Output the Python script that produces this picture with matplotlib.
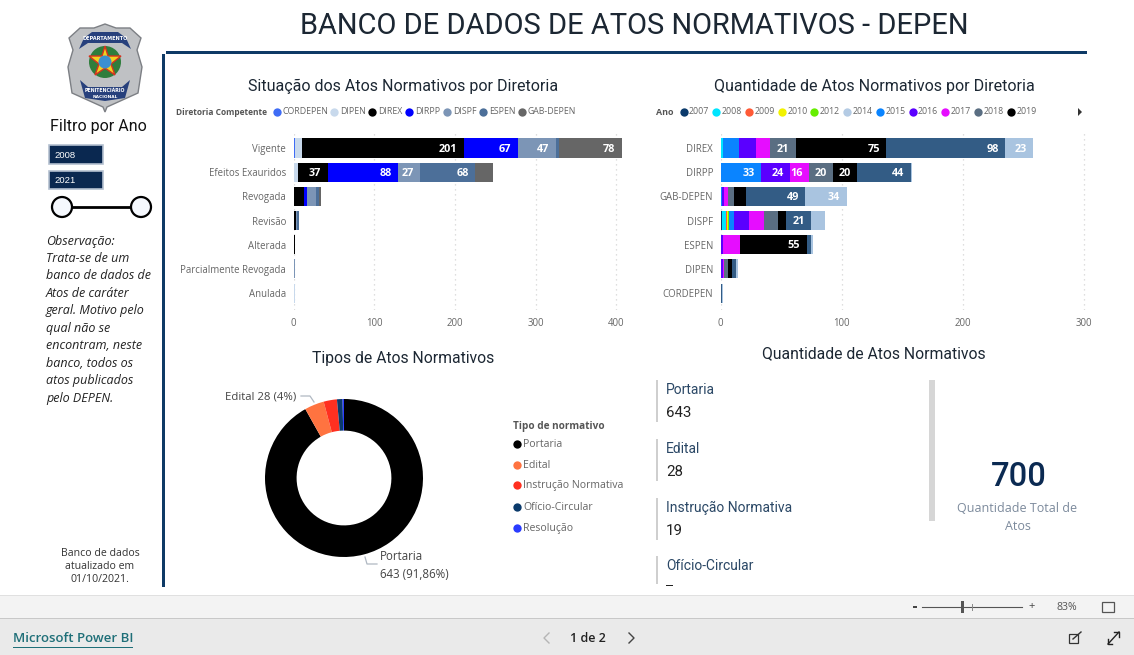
import matplotlib
matplotlib.use("Agg")
import matplotlib.pyplot as plt
from matplotlib.patches import Polygon, Rectangle, Circle
import numpy as np

W, H = 1134, 655

# ---------- data ----------
status_categories = ["Vigente", "Efeitos Exauridos", "Revogada", "Revisão", "Alterada",
                     "Parcialmente Revogada", "Anulada"]
directorates = ["CORDEPEN", "DIPEN", "DIREX", "DIRPP", "DISPF", "ESPEN", "GAB-DEPEN"]
cordepen = [2, 0, 0, 0, 0, 0, 0]
dipen = [8, 5, 0, 0, 0, 0, 2]
direx = [201, 37, 13, 3, 2, 0, 0]
dirpp = [67, 88, 3, 0, 0, 0, 0]
dispf = [47, 27, 12, 1, 0, 1, 0]
espen = [4, 68, 3, 2, 0, 0, 0]
gab = [78, 22, 3, 0, 0, 1, 0]
status_series = [cordepen, dipen, direx, dirpp, dispf, espen, gab]
status_colors = ["#3f6cf5", "#c8d9ec", "#000000", "#0000ff", "#7c95b6", "#4c6f99", "#666666"]

dir_categories = ["DIREX", "DIRPP", "GAB-DEPEN", "DISPF", "ESPEN", "DIPEN", "CORDEPEN"]
years = ["2007", "2008", "2009", "2010", "2012", "2014", "2015", "2016", "2017", "2018", "2019"]
y2007 = [0, 0, 0, 1, 0, 0, 0]
y2008 = [2, 0, 0, 3, 0, 0, 0]
y2009 = [0, 0, 0, 1, 0, 0, 0]
y2010 = [0, 0, 0, 1, 0, 0, 0]
y2012 = [0, 0, 0, 1, 0, 0, 0]
y2014 = [0, 0, 0, 0, 0, 0, 0]
y2015 = [13, 33, 1, 4, 0, 0, 0]
y2016 = [14, 24, 2, 12, 2, 2, 0]
y2017 = [12, 16, 3, 13, 14, 1, 0]
y2018 = [21, 20, 5, 11, 0, 3, 0]
y2019 = [75, 20, 10, 7, 55, 3, 0]
y2020 = [98, 44, 49, 21, 4, 4, 1]
y2021 = [23, 1, 34, 11, 1, 1, 1]
year_series = [y2007, y2008, y2009, y2010, y2012, y2014, y2015, y2016, y2017, y2018, y2019, y2020, y2021]
year_colors = ["#0b3a6b", "#00e5ff", "#ff5a36", "#f2f200", "#66ee00", "#b4cbe4", "#0a84ff",
               "#5a00ff", "#e60dff", "#5a6e82", "#000000", "#335c85", "#a9c4e0"]

act_types = ["Portaria", "Edital", "Instrução Normativa", "Ofício-Circular", "Resolução"]
act_values = [643, 28, 19, 8, 2]
act_colors = ["#000000", "#ff7340", "#ff3020", "#0b3a6b", "#2a3cff"]
kpi_values = ["643", "28", "19", "–"]
total_acts = "700"
obs_lines = ["Observação:", "Trata-se de um", "banco de dados de", "Atos de caráter", "geral. Motivo pelo",
             "qual não se", "encontram, neste", "banco, todos os", "atos publicados", "pelo DEPEN."]

# ---------- helpers ----------
HEAD = "Roboto"
BODY = "Open Sans"
fig = plt.figure(figsize=(W / 100, H / 100), dpi=100, facecolor="white")
bg = fig.add_axes([0, 0, 1, 1], zorder=0)
bg.set_xlim(0, W)
bg.set_ylim(H, 0)
bg.axis("off")


def px_axes(x0, y0, x1, y1, zorder=2):
    ax = fig.add_axes([x0 / W, 1 - y1 / H, (x1 - x0) / W, (y1 - y0) / H], zorder=zorder)
    ax.patch.set_alpha(0)
    return ax


def t(x, y, s, size=8, color="#666666", ha="left", va="center", family=BODY, **kw):
    return bg.text(x, y + 1, s, fontsize=size, color=color, ha=ha, va=va, family=family, **kw)


def rect(x0, y0, x1, y1, color, **kw):
    bg.add_patch(Rectangle((x0, y0), x1 - x0, y1 - y0, facecolor=color, edgecolor="none", **kw))


def stacked(px, series, colors, cats, xmax, ticks, threshold):
    ax = px_axes(*px)
    left = np.zeros(len(cats))
    for vals, col in zip(series, colors):
        vals = np.array(vals, float)
        ax.barh(range(len(cats)), vals, left=left, height=0.79, color=col, linewidth=0, zorder=3)
        for i, v in enumerate(vals):
            if v >= threshold:
                ax.annotate(f"{int(v)}", (left[i] + v, i), xytext=(-4.5, -0.8), textcoords="offset points",
                            ha="right", va="center", color="white", fontsize=7.8, fontweight="bold",
                            family=BODY, zorder=4)
        left += vals
    ax.set_xlim(0, xmax)
    ax.set_ylim(6.70, -0.745)
    ax.set_yticks(range(len(cats)), cats)
    ax.set_xticks(ticks)
    ax.tick_params(length=0, labelsize=6.9, labelcolor="#666666")
    ax.tick_params(axis="y", pad=5.5)
    ax.tick_params(axis="x", pad=5.5)
    for lab in ax.get_xticklabels() + ax.get_yticklabels():
        lab.set_family(BODY)
    for s in ax.spines.values():
        s.set_visible(False)
    ax.grid(axis="x", color="#d4d4d4", linestyle=(0, (1, 3)), linewidth=0.9, zorder=1)
    ax.set_axisbelow(True)
    return ax


# ---------- chrome ----------
t(634, 25, "BANCO DE DADOS DE ATOS NORMATIVOS - DEPEN", size=20.9, color="#1c2733", ha="center", family=HEAD)
rect(166, 51, 1087, 53.5, "#0e3a66")
rect(162, 54, 164.5, 587, "#0e3a66")
rect(0, 595, W, 618, "#f3f3f3")
rect(0, 595, W, 596, "#e0e0e0")
rect(0, 618, W, H, "#eaeaea")
rect(0, 617.5, W, 618.5, "#c8c8c8")

# ---------- badge ----------
half = [[105, 24], [94, 28], [80, 28], [69, 38], [73, 50], [68, 67], [72, 93], [103, 107], [105, 112]]
shield = half + [[210 - x, y] for x, y in half[-2:0:-1]]
bg.add_patch(Polygon(shield, closed=True, facecolor="#bfc1c4", edgecolor="#7c7f84", linewidth=1))
bg.add_patch(Polygon([[84, 38], [92, 32], [118, 32], [126, 38], [131, 49], [122, 43], [88, 43], [79, 49]],
                     closed=True, facecolor="#27407c", edgecolor="none"))
bg.add_patch(Polygon([[80, 80], [88, 87], [122, 87], [130, 80], [125, 98], [105, 101], [85, 98]],
                     closed=True, facecolor="#27407c", edgecolor="none"))
star = [[105, 46], [108, 56], [121, 56], [111, 64], [115, 75], [105, 68], [95, 75], [99, 64], [89, 56], [102, 56]]
bg.add_patch(Circle((105, 62), 16, facecolor="#2f7d3c", edgecolor="none"))
bg.add_patch(Polygon(star, closed=True, facecolor="#f2d21f", edgecolor="#d6321f", linewidth=1))
bg.add_patch(Circle((105, 62), 6.5, facecolor="#3b8fd0", edgecolor="none"))
t(105, 37, "DEPARTAMENTO", size=3.6, color="white", ha="center", family="DejaVu Sans", fontweight="bold")
t(105, 90, "PENITENCIÁRIO", size=3.4, color="white", ha="center", family="DejaVu Sans", fontweight="bold")
t(105, 96, "NACIONAL", size=3.2, color="white", ha="center", family="DejaVu Sans", fontweight="bold")

# ---------- slicer ----------
t(98, 126, "Filtro por Ano", size=11.5, color="#111111", ha="center", family=HEAD)
for y0, y1, lab in [(145, 164, "2008"), (171, 189, "2021")]:
    bg.add_patch(Rectangle((49, y0), 54, y1 - y0, facecolor="#0a2850", edgecolor="#b4c0d0", linewidth=1.2))
    t(54, (y0 + y1) / 2 - 0.5, lab, size=6.8, color="white", family="Liberation Sans")
bg.plot([62, 141], [207, 207], color="black", lw=2, zorder=2)
for cx in (62, 141):
    bg.add_patch(Circle((cx, 207), 10, facecolor="#f5f8fd", edgecolor="black", linewidth=1.6, zorder=3))

# ---------- observation ----------
for i, line in enumerate(obs_lines):
    t(46, 240 + i * 17.45, line, size=9, color="#222222", style="italic")
for y, line in zip((552, 565.5, 579), ("Banco de dados", "atualizado em", "01/10/2021.")):
    t(100, y, line, size=7.6, color="#333333", ha="center")

# ---------- stacked bars ----------
t(403, 85, "Situação dos Atos Normativos por Diretoria", size=11.5, color="#1c2733", ha="center", family=HEAD)
stacked((293.7, 130, 623, 310), status_series, status_colors, status_categories, 329.3 / 0.806, [0, 100, 200, 300, 400], 27)
t(176, 111.5, "Diretoria Competente", size=6.0, color="#555555", fontweight="bold")
for x, name, col in zip((276.7, 334, 372, 409, 447, 483, 522), directorates, status_colors):
    bg.scatter([x], [112], s=36, color=col, linewidths=0)
    t(x + 6, 111, name, size=6.3)

t(874, 85, "Quantidade de Atos Normativos por Diretoria", size=11.5, color="#1c2733", ha="center", family=HEAD)
stacked((720.7, 130, 1090, 310), year_series, year_colors, dir_categories, 369.3 / 1.21, [0, 100, 200, 300], 16)
t(656, 111.5, "Ano", size=6.4, color="#555555", fontweight="bold")
for i, (name, col) in enumerate(zip(years, year_colors)):
    x = 683.5 + i * 32.73
    bg.scatter([x], [112], s=36, color=col, linewidths=0)
    t(x + 5.5, 111, name, size=6.3)
bg.add_patch(Polygon([[1078, 108], [1082, 112], [1078, 116]], closed=True, facecolor="#333333", edgecolor="none"))

# ---------- donut ----------
t(403, 358, "Tipos de Atos Normativos", size=11.3, color="#1c2733", ha="center", family=HEAD)
pie_ax = px_axes(344 - 79, 478 - 79, 344 + 79, 478 + 79)
pie_ax.pie(act_values, colors=act_colors, startangle=90, counterclock=False, radius=1,
           wedgeprops=dict(width=0.4, linewidth=0))
pie_ax.set_xlim(-1, 1)
pie_ax.set_ylim(-1, 1)
bg.plot([301, 310, 314], [396, 396, 402], color="#b0b8c2", lw=0.9)
bg.plot([365, 367, 377], [557, 564, 564], color="#b0b8c2", lw=0.9)
t(225, 396, "Edital 28 (4%)", size=8.2, color="#444444")
t(380, 556, "Portaria", size=8.3, color="#444444")
t(380, 573, "643 (91,86%)", size=8.3, color="#444444")

t(513, 426, "Tipo de normativo", size=7.2, color="#555555", fontweight="bold")
for y, name, col in zip((444, 465, 485, 507, 528), act_types, act_colors):
    bg.scatter([517], [y], s=36, color=col, linewidths=0)
    t(523, y - 0.5, name, size=7.6)

# ---------- KPI ----------
t(874, 353, "Quantidade de Atos Normativos", size=11.3, color="#1c2733", ha="center", family=HEAD)
for i, (name, val) in enumerate(zip(act_types[:4], kpi_values)):
    y = 380 + i * 58.8
    rect(656, y, 658, min(y + 42, 584), "#cfcfcf")
    t(666, y + 9, name, size=10, color="#2b4866", family=HEAD)
    if i < 3:
        t(666, y + 32, val, size=10.8, color="#222222", family=HEAD)
    else:
        rect(666, y + 28.5, 673, y + 29.5, "#222222")
rect(929, 380, 935, 521, "#d6d6d6")
t(1019, 476, total_acts, size=23.5, color="#0b2a52", ha="center", family=HEAD, fontweight="medium")
t(1017, 508, "Quantidade Total de", size=9, color="#7c8a9c", ha="center")
t(1018, 526, "Atos", size=9, color="#7c8a9c", ha="center")

# ---------- footer ----------
rect(913, 606, 917, 608, "#444444")
bg.plot([922, 1022], [607, 607], color="#555555", lw=0.8)
rect(961, 601, 964, 613, "#555555")
bg.plot([972, 972], [604, 610], color="#888888", lw=0.7)
t(1032, 605.5, "+", size=8, color="#444444", ha="center")
t(1067, 606, "83%", size=7.6, color="#555555", ha="center")
bg.add_patch(Rectangle((1102, 602), 12, 10, facecolor="none", edgecolor="#555555", linewidth=0.9))
t(13, 638, "Microsoft Power BI", size=9.5, color="#1f6f78", family=BODY, fontweight="semibold")
rect(13, 646.5, 133, 647.5, "#1f6f78")
bg.plot([549, 544, 549], [633, 638, 643], color="#b5b5b5", lw=1)
t(588, 637, "1 de 2", size=9, color="#222222", ha="center", fontweight="semibold")
bg.plot([629, 634, 629], [633, 638, 643], color="#444444", lw=1)
bg.add_patch(Rectangle((1069, 634), 9, 9, facecolor="none", edgecolor="#333333", linewidth=0.9))
bg.plot([1073, 1081], [639, 632], color="#333333", lw=1)
bg.plot([1108, 1119], [644, 632], color="#222222", lw=1)
bg.plot([1108, 1108, 1112], [639, 644, 644], color="#222222", lw=1)
bg.plot([1114, 1119, 1119], [632, 632, 637], color="#222222", lw=1)

bg.set_xlim(0, W)
bg.set_ylim(H, 0)
fig.savefig("out.png", dpi=100, facecolor="white")
